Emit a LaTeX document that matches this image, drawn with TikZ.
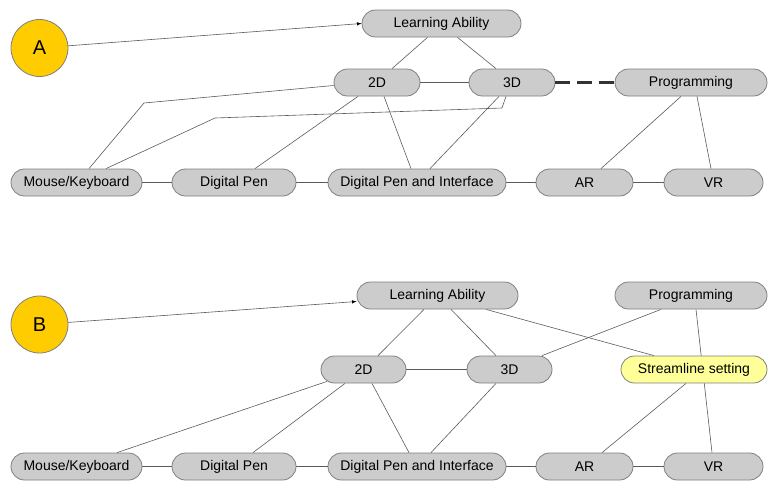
\documentclass[tikz,border=0pt]{standalone}
\usepackage{fontspec}
\setmainfont{Liberation Sans}
\usetikzlibrary{arrows,positioning,backgrounds}
\definecolor{boxfill}{HTML}{CCCCCC}
\definecolor{boxline}{HTML}{7F7F7F}
\definecolor{linkline}{HTML}{5A5A5A}
\definecolor{markfill}{HTML}{FFCC00}
\definecolor{notefill}{HTML}{FFFF99}
\tikzset{
item/.style={
    rectangle,
    draw=boxline,
    fill=boxfill,
    rounded corners=13.5pt,
    minimum height=27pt,
    inner sep=0pt,
    line width=0.8pt,
    font=\fontsize{14}{16}\selectfont
},
note/.style={
    item,
    fill=notefill
},
marker/.style={
    circle,
    draw=boxline,
    fill=markfill,
    minimum size=57pt,
    inner sep=0pt,
    line width=0.8pt,
    font=\fontsize{20}{22}\selectfont
},
link/.style={
    draw=linkline,
    line width=0.6pt
},
heavy link/.style={
    draw=black!80,
    line width=2.5pt,
    dash pattern=on 15pt off 7pt
}
}
\begin{document}
\begin{tikzpicture}[x=1pt,y=-1pt]
\useasboundingbox (0,0) rectangle (768,480);

% part A
\node[marker] (circa) at (39.5,48) {A};
\node[item, minimum width=159pt] (la) at (441.5,23.5) {Learning Ability};
\node[item, minimum width=86pt] (twod) at (377,82.5) {2D};
\node[item, minimum width=86pt] (threed) at (512,82.5) {3D};
\node[item, minimum width=152pt] (prog) at (691,82.5) {Programming};
\node[item, minimum width=131pt] (mk) at (76.5,182.5) {Mouse/Keyboard};
\node[item, minimum width=124pt] (dp) at (234,182.5) {Digital Pen};
\node[item, minimum width=178pt] (dpi) at (417,182.5) {Digital Pen and Interface};
\node[item, minimum width=97pt] (ar) at (584.5,182.5) {AR};
\node[item, minimum width=99pt] (vr) at (713.5,182.5) {VR};
\coordinate (kinka) at (144,103);
\coordinate (kinkb) at (502,108);
\coordinate (kinkc) at (215,118);

\begin{pgfonlayer}{background}
\path [link] ([xshift=-14pt]la.south) edge ([xshift=15pt]twod.north);
\path [link] ([xshift=16pt]la.south) edge ([xshift=-16pt]threed.north);
\path [link] (twod.east) edge (threed.west);
\draw [link] ([yshift=-3pt]twod.west) -- (kinka) -- ([xshift=12.5pt]mk.north);
\draw [link] ([xshift=-6pt]threed.south) -- (kinkb) -- (kinkc) -- ([xshift=29.5pt]mk.north);
\path [link] ([xshift=-19pt]twod.south) edge ([xshift=21pt]dp.north);
\path [link] ([xshift=7pt]twod.south) edge ([xshift=-6pt]dpi.north);
\path [link] ([xshift=-13pt]threed.south) edge ([xshift=13pt]dpi.north);
\path [link] ([xshift=-10pt]prog.south) edge ([xshift=16.5pt]ar.north);
\path [link] ([xshift=6pt]prog.south) edge ([xshift=-2.5pt]vr.north);
\path [link] (mk) edge (dp);
\path [link] (dp) edge (dpi);
\path [link] (dpi) edge (ar);
\path [link] (ar) edge (vr);
\end{pgfonlayer}
\path [heavy link] (threed.east) edge (prog.west);
\path [link, >=latex, ->] (circa) edge (la.west);

% part B
\node[marker] (circb) at (39.5,324.5) {B};
\node[item, minimum width=161pt] (lab) at (437.5,295.5) {Learning Ability};
\node[item, minimum width=152pt] (progb) at (691,295.5) {Programming};
\node[item, minimum width=85pt] (twodb) at (363.5,369.5) {2D};
\node[item, minimum width=85pt] (threedb) at (509.5,369.5) {3D};
\node[note, minimum width=146pt] (slb) at (694,369.5) {Streamline setting};
\node[item, minimum width=131pt] (mkb) at (76.5,466.5) {Mouse/Keyboard};
\node[item, minimum width=124pt] (dpb) at (234,466.5) {Digital Pen};
\node[item, minimum width=178pt] (dpib) at (417,466.5) {Digital Pen and Interface};
\node[item, minimum width=97pt] (arb) at (584.5,466.5) {AR};
\node[item, minimum width=99pt] (vrb) at (713.5,466.5) {VR};

\begin{pgfonlayer}{background}
\path [link] ([xshift=-13.5pt]lab.south) edge ([xshift=14.5pt]twodb.north);
\path [link] ([xshift=13.5pt]lab.south) edge ([xshift=-13.5pt]threedb.north);
\path [link] ([xshift=48.5pt]lab.south) edge ([xshift=-40pt]slb.north);
\path [link] ([xshift=-30pt]progb.south) edge ([xshift=32.5pt]threedb.north);
\path [link] ([xshift=5pt]progb.south) edge ([xshift=-1.5pt]vrb.north);
\path [link] ([xshift=-8pt]slb.south) edge ([xshift=17.5pt]arb.north);
\path [link] (twodb.east) edge (threedb.west);
\path [link] ([xshift=-36.5pt,yshift=2pt]twodb.south) edge ([xshift=40.5pt]mkb.north);
\path [link] ([xshift=-18.5pt]twodb.south) edge ([xshift=19pt]dpb.north);
\path [link] ([xshift=8.5pt]twodb.south) edge ([xshift=-8pt]dpib.north);
\path [link] ([xshift=-13.5pt]threedb.south) edge ([xshift=14pt]dpib.north);
\path [link] (mkb) edge (dpb);
\path [link] (dpb) edge (dpib);
\path [link] (dpib) edge (arb);
\path [link] (arb) edge (vrb);
\end{pgfonlayer}
\path [link, >=latex, ->] (circb) edge ([yshift=-6pt]lab.west);

\end{tikzpicture}
\end{document}
